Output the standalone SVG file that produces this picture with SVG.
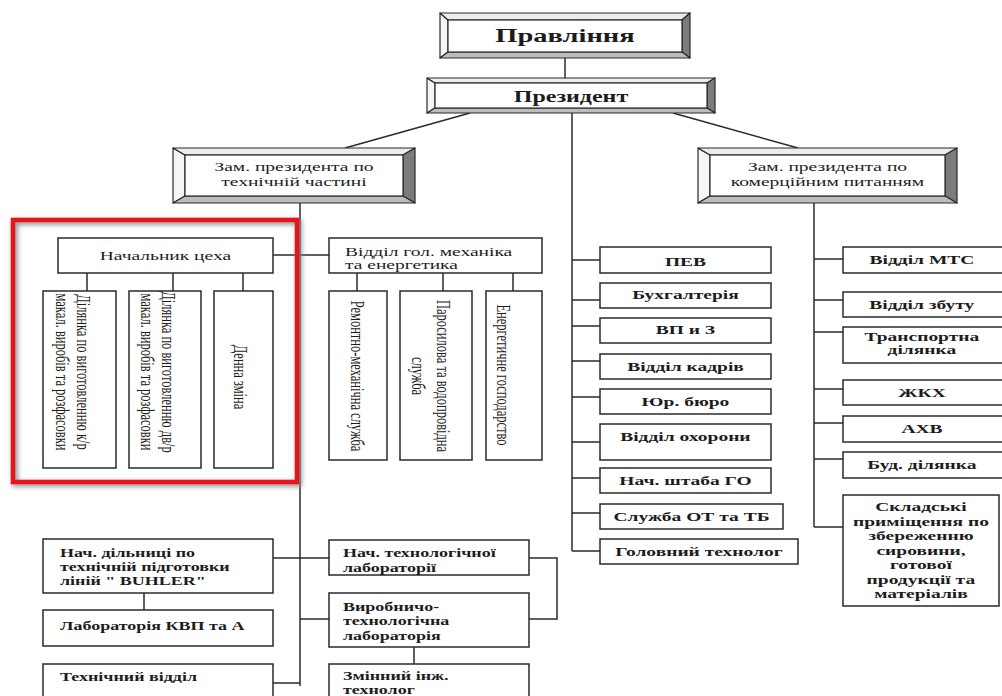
<svg xmlns="http://www.w3.org/2000/svg" width="1002" height="696" viewBox="0 0 1002 696">
  <defs>
    <style>
      text { font-family: "Liberation Serif", "Times New Roman", serif; fill: #1c1c1c; }
      .h { transform-box: fill-box; transform-origin: 50% 50%; transform: scaleX(1.5); text-anchor: middle; }
      .hl { transform-box: fill-box; transform-origin: 0% 50%; transform: scaleX(1.5); }
      .b { font-weight: bold; }
      .f13 { font-size: 13px; }
      .f12 { font-size: 12px; }
      .v { font-size: 12.5px; text-anchor: middle; }
      .bx { fill: #fff; stroke: #2a2a2a; stroke-width: 1.5; }
      .cn { fill: none; stroke: #2a2a2a; stroke-width: 1.5; }
      .bv { stroke: #2a2a2a; stroke-width: 1.2; stroke-linejoin: round; }
      .bvl { fill: #f6f6f6; }
      .bvt { fill: #ececec; }
      .bvr { fill: #7c7c7c; }
      .bvb { fill: #bdbdbd; }
      .in { fill: #fff; stroke: #2a2a2a; stroke-width: 1.2; }
    </style>
    <filter id="haze" x="-10%" y="-10%" width="120%" height="120%">
      <feGaussianBlur stdDeviation="2.5"/>
    </filter>
  </defs>

  <rect width="1002" height="696" fill="#fff"/>

  <!-- connectors -->
  <g id="connectors" class="cn">
    <path d="M565,58 V78"/>
    <path d="M470,113 L345,148"/>
    <path d="M673,113 L798,148"/>
    <!-- president's direct services -->
    <path d="M572,113 V551"/>
    <path d="M572,260 H600 M572,300 H600 M572,326 H600 M572,361 H600 M572,397 H600 M572,442 H600 M572,478 H600 M572,513 H600 M572,551 H600"/>
    <!-- technical branch -->
    <path d="M300,203 V686"/>
    <path d="M273,255 H329"/>
    <path d="M87,273 V291 M173,273 V291 M243,273 V291"/>
    <path d="M357,273 V291 M443,273 V291 M513,273 V291"/>
    <path d="M273,558 H329 M300,619 H329 M273,683 H300"/>
    <path d="M144,593 V610"/>
    <path d="M529,558 H557 V619 H529"/>
    <path d="M414,647 V664"/>
    <!-- commercial branch -->
    <path d="M814,203 V527"/>
    <path d="M814,259 H843 M814,300 H843 M814,332 H843 M814,389 H843 M814,423 H843 M814,459 H843 M814,527 H843"/>
  </g>

  <!-- highlight frame -->
  <g id="highlight">
    <rect x="15" y="222" width="284" height="262" fill="none" stroke="#8a8a8a" stroke-width="5" filter="url(#haze)"/>
    <rect x="13" y="220" width="284" height="262" fill="none" stroke="#e8141c" stroke-width="4.5"/>
  </g>

  <g id="board">
    <g class="bv">
      <polygon class="bvl" points="440,13 448,20 448,52 440,58"/>
      <polygon class="bvt" points="440,13 690,13 682,20 448,20"/>
      <polygon class="bvr" points="690,13 690,58 682,52 682,20"/>
      <polygon class="bvb" points="440,58 448,52 682,52 690,58"/>
    </g>
    <rect class="in" x="448" y="20" width="234" height="32"/>
    <text class="h b" x="565" y="42" font-size="19">Правління</text>
  </g>

  <g id="president">
    <g class="bv">
      <polygon class="bvl" points="427,78 435,83 435,108 427,113"/>
      <polygon class="bvt" points="427,78 715,78 707,83 435,83"/>
      <polygon class="bvr" points="715,78 715,113 707,108 707,83"/>
      <polygon class="bvb" points="427,113 435,108 707,108 715,113"/>
    </g>
    <rect class="in" x="435" y="83" width="272" height="25"/>
    <text class="h b" x="571" y="102" font-size="16">Президент</text>
  </g>

  <g id="vp-tech">
    <g class="bv">
      <polygon class="bvl" points="173,148 185,155 185,196 173,203"/>
      <polygon class="bvt" points="173,148 415,148 403,155 185,155"/>
      <polygon class="bvr" points="415,148 415,203 403,196 403,155"/>
      <polygon class="bvb" points="173,203 185,196 403,196 415,203"/>
    </g>
    <rect class="in" x="185" y="155" width="218" height="41"/>
    <text class="h f13" x="294" y="171">Зам. президента по</text>
    <text class="h f13" x="294" y="186">технічній частині</text>
  </g>

  <g id="vp-commerce">
    <g class="bv">
      <polygon class="bvl" points="698,148 710,155 710,196 698,203"/>
      <polygon class="bvt" points="698,148 957,148 945,155 710,155"/>
      <polygon class="bvr" points="957,148 957,203 945,196 945,155"/>
      <polygon class="bvb" points="698,203 710,196 945,196 957,203"/>
    </g>
    <rect class="in" x="710" y="155" width="235" height="41"/>
    <text class="h f13" x="827.5" y="171">Зам. президента по</text>
    <text class="h f13" x="827.5" y="186">комерційним питанням</text>
  </g>

  <!-- workshop -->
  <g id="shop-head">
    <rect class="bx" x="58" y="238" width="215" height="35"/>
    <text class="h f13" x="165.5" y="260">Начальник цеха</text>
  </g>
  <g id="shop-kr">
    <rect class="bx" x="43" y="291" width="73" height="177"/>
    <text class="v" transform="translate(76.5,372) rotate(90) scale(1,1.5)">Ділянка по виготовленню к/р</text>
    <text class="v" transform="translate(55.5,372) rotate(90) scale(1,1.5)">макал. виробів та розфасовки</text>
  </g>
  <g id="shop-dvr">
    <rect class="bx" x="129" y="291" width="72" height="177"/>
    <text class="v" transform="translate(161.5,372) rotate(90) scale(1,1.5)">Ділянка по виготовленню дв/р</text>
    <text class="v" transform="translate(140.5,372) rotate(90) scale(1,1.5)">макал. виробів та розфасовки</text>
  </g>
  <g id="shop-day">
    <rect class="bx" x="214" y="291" width="59" height="177"/>
    <text class="v" transform="translate(233.5,377) rotate(90) scale(1,1.5)">Денна зміна</text>
  </g>

  <!-- chief mechanic -->
  <g id="mech-head">
    <rect class="bx" x="329" y="238" width="213" height="35"/>
    <text class="hl f13" x="345" y="256">Відділ гол. механіка</text>
    <text class="hl f13" x="345" y="269">та енергетика</text>
  </g>
  <g id="mech-repair">
    <rect class="bx" x="329" y="291" width="58" height="169"/>
    <text class="v" transform="translate(350.5,376) rotate(90) scale(1,1.5)">Ремонтно-механічна служба</text>
  </g>
  <g id="mech-steam">
    <rect class="bx" x="400" y="291" width="72" height="169"/>
    <text class="v" transform="translate(436.5,376) rotate(90) scale(1,1.5)">Паросилова та водопровідна</text>
    <text class="v" transform="translate(411.5,376) rotate(90) scale(1,1.5)">служба</text>
  </g>
  <g id="mech-energy">
    <rect class="bx" x="486" y="291" width="56" height="169"/>
    <text class="v" transform="translate(496.5,375) rotate(90) scale(1,1.5)">Енергетичне господарство</text>
  </g>

  <!-- services under the president -->
  <g id="pev"><rect class="bx" x="600" y="247" width="171" height="26"/><text class="h b f13" x="685.5" y="266">ПЕВ</text></g>
  <g id="accounting"><rect class="bx" x="600" y="283" width="171" height="25"/><text class="h b f13" x="685.5" y="299.5">Бухгалтерія</text></g>
  <g id="vpz"><rect class="bx" x="600" y="318" width="171" height="25"/><text class="h b f13" x="685.5" y="334.5">ВП и З</text></g>
  <g id="hr"><rect class="bx" x="600" y="354" width="171" height="25"/><text class="h b f13" x="685.5" y="371">Відділ кадрів</text></g>
  <g id="legal"><rect class="bx" x="600" y="389" width="171" height="25"/><text class="h b f13" x="685.5" y="406.5">Юр. бюро</text></g>
  <g id="security"><rect class="bx" x="600" y="424" width="171" height="36"/><text class="h b f13" x="685.5" y="441.5">Відділ охорони</text></g>
  <g id="civil-defence"><rect class="bx" x="600" y="468" width="171" height="25"/><text class="h b f13" x="685.5" y="485.5">Нач. штаба ГО</text></g>
  <g id="safety"><rect class="bx" x="600" y="504" width="183" height="25"/><text class="h b f13" x="691.5" y="521.5">Служба ОТ та ТБ</text></g>
  <g id="chief-tech"><rect class="bx" x="600" y="539" width="198" height="25"/><text class="h b f13" x="699" y="556.5">Головний технолог</text></g>

  <!-- commercial services -->
  <g id="mts"><rect class="bx" x="843" y="247" width="161" height="26"/><text class="h b f13" x="922" y="264.5">Відділ МТС</text></g>
  <g id="sales"><rect class="bx" x="843" y="292" width="161" height="25"/><text class="h b f13" x="922" y="309">Відділ збуту</text></g>
  <g id="transport"><rect class="bx" x="843" y="327" width="161" height="36"/>
    <text class="h b f13" x="922" y="341">Транспортна</text>
    <text class="h b f13" x="922" y="354">ділянка</text></g>
  <g id="housing"><rect class="bx" x="843" y="380" width="161" height="25"/><text class="h b f13" x="922" y="397">ЖКХ</text></g>
  <g id="admin"><rect class="bx" x="843" y="416" width="161" height="26"/><text class="h b f13" x="922" y="433">АХВ</text></g>
  <g id="building"><rect class="bx" x="843" y="452" width="161" height="26"/><text class="h b f13" x="922" y="469">Буд. ділянка</text></g>
  <g id="storage"><rect class="bx" x="843" y="495" width="156" height="111"/>
    <text class="h b f13" x="921" y="511">Складські</text>
    <text class="h b f13" x="921" y="526">приміщення по</text>
    <text class="h b f13" x="921" y="540">збереженню</text>
    <text class="h b f13" x="921" y="555">сировини,</text>
    <text class="h b f13" x="921" y="569">готової</text>
    <text class="h b f13" x="921" y="584">продукції та</text>
    <text class="h b f13" x="921" y="598">матеріалів</text></g>

  <!-- lower technical units -->
  <g id="buhler"><rect class="bx" x="43" y="539" width="230" height="54"/>
    <text class="hl b f12" x="60" y="557">Нач. дільниці по</text>
    <text class="hl b f12" x="60" y="571">технічній підготовки</text>
    <text class="hl b f12" x="60" y="585">ліній " BUHLER"</text></g>
  <g id="kvp-lab"><rect class="bx" x="43" y="610" width="230" height="36"/>
    <text class="hl b f12" x="60" y="630">Лабораторія КВП та А</text></g>
  <g id="tech-dept"><rect class="bx" x="43" y="664" width="230" height="40"/>
    <text class="hl b f12" x="60" y="681">Технічний відділ</text></g>
  <g id="tech-lab-head"><rect class="bx" x="329" y="540" width="200" height="35"/>
    <text class="hl b f12" x="343" y="557">Нач. технологічної</text>
    <text class="hl b f12" x="343" y="572">лабораторії</text></g>
  <g id="prod-lab"><rect class="bx" x="329" y="593" width="200" height="54"/>
    <text class="hl b f12" x="343" y="611">Виробничо-</text>
    <text class="hl b f12" x="343" y="625">технологічна</text>
    <text class="hl b f12" x="343" y="640">лабораторія</text></g>
  <g id="shift-eng"><rect class="bx" x="329" y="664" width="200" height="40"/>
    <text class="hl b f12" x="343" y="680">Змінний інж.</text>
    <text class="hl b f12" x="343" y="694">технолог</text></g>
</svg>
